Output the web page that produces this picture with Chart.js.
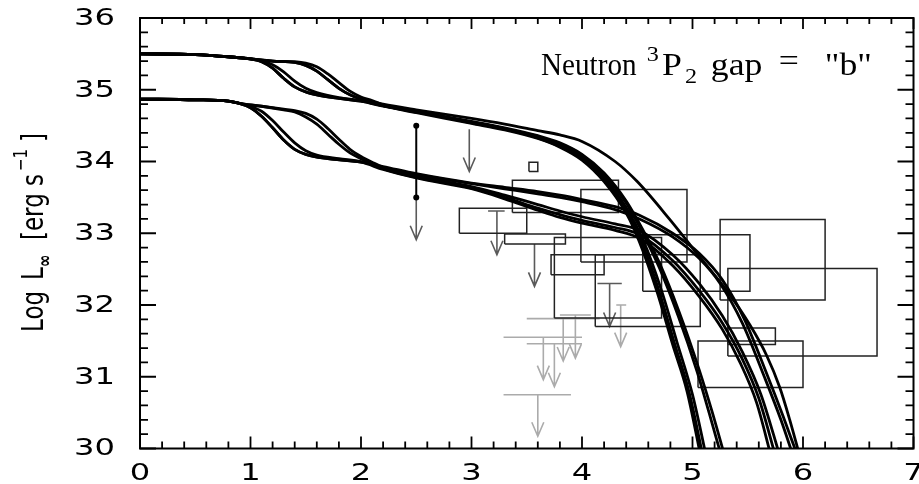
<!DOCTYPE html>
<html>
<head>
<meta charset="utf-8">
<script src="https://cdn.jsdelivr.net/npm/chart.js@4.4.1/dist/chart.umd.min.js"></script>
<style>
  html, body { margin: 0; padding: 0; background: #fff; }
  #wrap { width: 919px; height: 484px; }
</style>
</head>
<body>
<div id="wrap"><canvas id="cooling" width="919" height="484"></canvas></div>
<script>
// axes
const xTicks = [0, 1, 2, 3, 4, 5, 6, 7];
const yTicks = [30, 31, 32, 33, 34, 35, 36];

// early (neutrino era) parts of the cooling curves, [log age, log L]
const upperEarlyA = [[0,35.5],[0.5,35.49],[0.8,35.46],[1.0,35.43],[1.1,35.39],[1.2,35.3],[1.3,35.16],[1.4,35.04],[1.5,34.97],[1.6,34.93],[1.8,34.88],[2.0,34.84]];
const upperEarlyB = [[0,35.5],[0.5,35.49],[0.8,35.46],[1.0,35.43],[1.1,35.4],[1.2,35.35],[1.3,35.25],[1.4,35.12],[1.5,35.02],[1.6,34.96],[1.8,34.89],[2.0,34.85]];
const upperLateA = [[0,35.5],[0.5,35.49],[0.8,35.46],[1.0,35.43],[1.2,35.4],[1.4,35.38],[1.5,35.34],[1.6,35.26],[1.7,35.14],[1.8,35.02],[1.9,34.93],[2.0,34.87]];
const upperLateB = [[0,35.5],[0.5,35.49],[0.8,35.46],[1.0,35.43],[1.2,35.4],[1.4,35.39],[1.5,35.37],[1.6,35.32],[1.7,35.22],[1.8,35.1],[1.9,34.98],[2.0,34.9],[2.1,34.85]];

const lowerEarlyA = [[0,34.87],[0.5,34.86],[0.8,34.84],[0.9,34.81],[1.0,34.75],[1.1,34.63],[1.2,34.47],[1.3,34.3],[1.4,34.17],[1.5,34.1],[1.7,34.04],[2.0,33.99]];
const lowerEarlyB = [[0,34.87],[0.5,34.86],[0.8,34.84],[0.9,34.81],[1.0,34.77],[1.1,34.7],[1.2,34.57],[1.3,34.41],[1.4,34.26],[1.5,34.15],[1.6,34.09],[1.8,34.04],[2.0,34.0]];
const lowerLateA = [[0,34.87],[0.5,34.86],[0.8,34.84],[0.9,34.81],[1.1,34.77],[1.3,34.72],[1.4,34.69],[1.5,34.62],[1.6,34.52],[1.7,34.38],[1.8,34.24],[1.9,34.12],[2.0,34.04]];
const lowerLateB = [[0,34.87],[0.5,34.86],[0.8,34.84],[0.9,34.81],[1.1,34.77],[1.3,34.73],[1.4,34.71],[1.5,34.67],[1.6,34.59],[1.7,34.46],[1.8,34.31],[1.9,34.17],[2.0,34.07],[2.1,33.99]];

// late (photon era) parts
const tailU1 = [[2.2,34.77],[2.5,34.68],[3.0,34.53],[3.3,34.44],[3.6,34.32],[3.8,34.2],[4.0,34.02],[4.2,33.72],[4.4,33.28],[4.52,32.88],[4.68,32.18],[4.82,31.45],[4.95,30.8],[5.08,29.85]];
const tailU2 = [[2.2,34.78],[2.5,34.69],[3.0,34.54],[3.3,34.45],[3.6,34.33],[3.8,34.21],[4.0,34.04],[4.2,33.75],[4.4,33.32],[4.54,32.88],[4.7,32.18],[4.84,31.45],[4.97,30.78],[5.1,29.85]];
const tailU3 = [[2.2,34.78],[2.5,34.69],[3.0,34.55],[3.3,34.46],[3.6,34.34],[3.8,34.23],[4.0,34.06],[4.2,33.78],[4.4,33.36],[4.56,32.88],[4.72,32.2],[4.86,31.48],[5.0,30.75],[5.13,29.85]];
const tailU4 = [[2.2,34.79],[2.5,34.7],[3.0,34.56],[3.3,34.47],[3.6,34.36],[3.8,34.26],[4.0,34.1],[4.2,33.84],[4.4,33.45],[4.55,33.05],[4.7,32.59],[4.88,31.9],[5.06,31.1],[5.18,30.5],[5.29,29.9]];
const tailU5 = [[2.2,34.78],[2.5,34.69],[3.0,34.55],[3.3,34.46],[3.6,34.35],[3.8,34.25],[4.0,34.09],[4.2,33.82],[4.4,33.42],[4.55,33.0],[4.7,32.52],[4.87,31.85],[5.04,31.08],[5.15,30.5],[5.26,29.9]];
const tailU6 = [[2.2,34.8],[2.5,34.72],[3.0,34.6],[3.3,34.52],[3.6,34.43],[3.8,34.37],[4.0,34.28],[4.3,34.0],[4.5,33.72],[4.79,33.2],[5.06,32.68],[5.31,32.2],[5.52,31.72],[5.67,31.3],[5.79,30.85],[5.88,30.4],[5.97,29.9]];

const tailL1 = [[2.2,33.89],[2.5,33.77],[3.0,33.62],[3.3,33.48],[3.6,33.32],[3.8,33.22],[4.0,33.14],[4.3,33.04],[4.52,32.93],[4.82,32.55],[5.06,32.12],[5.27,31.66],[5.43,31.2],[5.58,30.64],[5.71,29.9]];
const tailL2 = [[2.2,33.9],[2.5,33.78],[3.0,33.63],[3.3,33.5],[3.6,33.35],[3.8,33.26],[4.0,33.18],[4.3,33.08],[4.52,32.98],[4.82,32.62],[5.06,32.2],[5.27,31.75],[5.45,31.25],[5.6,30.7],[5.75,29.9]];
const tailL3 = [[2.2,33.91],[2.5,33.8],[3.0,33.65],[3.3,33.53],[3.6,33.4],[3.8,33.31],[4.0,33.23],[4.3,33.13],[4.52,33.04],[4.82,32.7],[5.06,32.3],[5.27,31.85],[5.45,31.35],[5.62,30.75],[5.79,29.9]];
const tailL4 = [[2.2,33.92],[2.5,33.82],[3.0,33.69],[3.3,33.62],[3.6,33.55],[3.8,33.5],[4.0,33.44],[4.3,33.33],[4.52,33.2],[4.82,32.95],[5.06,32.65],[5.25,32.3],[5.45,31.75],[5.65,31.0],[5.8,30.4],[5.91,29.9]];
const tailL5 = [[2.2,33.93],[2.5,33.83],[3.0,33.7],[3.3,33.64],[3.6,33.58],[3.8,33.53],[4.0,33.47],[4.3,33.37],[4.52,33.25],[4.82,33.0],[5.06,32.72],[5.27,32.35],[5.47,31.8],[5.67,31.05],[5.82,30.45],[5.95,29.9]];

const curves = [
    upperEarlyA.concat(tailU1), upperLateA.concat(tailU2), upperEarlyB.concat(tailU3),
    upperLateB.concat(tailU4), upperEarlyA.concat(tailU5), upperLateA.concat(tailU6),
    lowerEarlyA.concat(tailL1), lowerLateA.concat(tailL2), lowerEarlyB.concat(tailL3),
    lowerLateB.concat(tailL4), lowerEarlyA.concat(tailL5)
];

// observed stars: boxes [age min, age max, L min, L max]
const boxes = [
    [3.52, 3.60, 33.86, 33.99], [3.37, 4.33, 33.29, 33.74], [2.89, 3.50, 33.0, 33.35],
    [3.30, 3.85, 32.85, 32.99], [3.99, 4.95, 32.60, 33.61], [3.75, 4.72, 31.82, 32.94],
    [3.72, 4.20, 32.42, 32.70], [4.12, 5.07, 31.70, 32.70], [4.55, 5.52, 32.19, 32.98],
    [5.25, 6.20, 32.07, 33.19], [5.32, 6.67, 31.29, 32.51], [5.32, 5.75, 31.45, 31.68],
    [5.05, 6.00, 30.85, 31.50]
];

// measured point with error bar [age, L low, L high]
const errorBar = [2.5, 33.5, 34.5];

// upper limits [age, L limit, arrow tip, cap from, cap to]
const darkLimits = [
    [2.5, 33.5, 32.91, null, null], [2.98, 34.45, 33.86, null, null],
    [3.23, 33.31, 32.70, 3.15, 3.30], [3.57, 32.85, 32.26, null, null],
    [4.25, 32.30, 31.70, 4.14, 4.36]
];
const lightLimits = [
    [4.35, 32.0, 31.42, 4.31, 4.40], [3.94, 31.86, 31.26, 3.80, 4.08],
    [3.83, 31.81, 31.22, 3.50, 4.16], [3.65, 31.55, 30.96, 3.29, 4.00],
    [3.75, 31.46, 30.86, 3.50, 4.00], [3.60, 30.75, 30.17, 3.29, 3.90]
];

const toXY = (pts) => pts.map(([x, y]) => ({ x, y }));

const datasets = [];
curves.forEach((c) => datasets.push({
    data: toXY(c),
    showLine: true,
    borderColor: '#000',
    borderWidth: 2.8,
    pointRadius: 0,
    cubicInterpolationMode: 'monotone',
    order: 0
}));
boxes.forEach(([x0, x1, y0, y1]) => datasets.push({
    data: toXY([[x0, y0], [x1, y0], [x1, y1], [x0, y1], [x0, y0]]),
    showLine: true,
    borderColor: '#222',
    borderWidth: 1.5,
    pointRadius: 0,
    tension: 0,
    order: 2
}));
datasets.push({
    data: toXY([[errorBar[0], errorBar[1]], [errorBar[0], errorBar[2]]]),
    showLine: true,
    borderColor: '#000',
    borderWidth: 2,
    pointRadius: 3,
    pointBackgroundColor: '#000',
    pointBorderWidth: 0,
    order: 1
});

const drawLimit = (ctx, xs, ys, lim, color) => {
    const [x, top, tip, c0, c1] = lim;
    const px = xs.getPixelForValue(x);
    const pt = ys.getPixelForValue(top);
    const pb = ys.getPixelForValue(tip);
    ctx.strokeStyle = color;
    ctx.lineWidth = 1.6;
    ctx.beginPath();
    ctx.moveTo(px, pt);
    ctx.lineTo(px, pb);
    ctx.moveTo(px - 6, pb - 14);
    ctx.lineTo(px, pb);
    ctx.lineTo(px + 6, pb - 14);
    if (c0 !== null) {
        ctx.moveTo(xs.getPixelForValue(c0), pt);
        ctx.lineTo(xs.getPixelForValue(c1), pt);
    }
    ctx.stroke();
};

// place a chunk of text so its ink starts at x0, stretched a little towards x1
const fitText = (ctx, text, x0, x1, base, font) => {
    ctx.font = font;
    const m = ctx.measureText(text);
    const w = m.actualBoundingBoxLeft + m.actualBoundingBoxRight;
    const s = Math.min(1.15, Math.max(0.9, (x1 - x0) / w));
    ctx.save();
    ctx.translate(x0, base);
    ctx.scale(s, 1);
    ctx.fillText(text, m.actualBoundingBoxLeft, 0);
    ctx.restore();
};

const framePlugin = {
    id: 'framePlugin',
    beforeDatasetsDraw(chart) {
        const { ctx, scales: { x, y } } = chart;
        ctx.save();
        darkLimits.forEach((l) => drawLimit(ctx, x, y, l, '#5a5a5a'));
        lightLimits.forEach((l) => drawLimit(ctx, x, y, l, '#ababab'));
        ctx.restore();
    },
    afterDraw(chart) {
        const { ctx, chartArea: a, scales: { x, y } } = chart;
        ctx.save();
        ctx.strokeStyle = '#000';
        ctx.fillStyle = '#000';
        ctx.lineWidth = 2;
        ctx.strokeRect(a.left, a.top, a.right - a.left, a.bottom - a.top);

        ctx.lineWidth = 1.8;
        ctx.beginPath();
        for (let v = xTicks[0]; v <= xTicks[xTicks.length - 1] + 1e-6; v += 0.2) {
            const major = Math.abs(v - Math.round(v)) < 1e-6;
            const px = x.getPixelForValue(v);
            ctx.moveTo(px, a.bottom);
            ctx.lineTo(px, a.bottom - (major ? 12 : 7));
            ctx.moveTo(px, a.top);
            ctx.lineTo(px, a.top + (major ? 11 : 6));
        }
        for (let v = yTicks[0]; v <= yTicks[yTicks.length - 1] + 1e-6; v += 0.2) {
            const major = Math.abs(v - Math.round(v)) < 1e-6;
            const py = y.getPixelForValue(v);
            ctx.moveTo(a.left, py);
            ctx.lineTo(a.left + (major ? 16 : 8), py);
            ctx.moveTo(a.right, py);
            ctx.lineTo(a.right - (major ? 16 : 8), py);
        }
        ctx.stroke();

        // tick labels
        ctx.font = '23px "DejaVu Sans"';
        yTicks.forEach((v) => {
            ctx.save();
            ctx.translate(a.left - 25, y.getPixelForValue(v) + 1);
            ctx.scale(1.4, 1);
            ctx.textAlign = 'right';
            ctx.textBaseline = 'middle';
            ctx.fillText(String(v), 0, 0);
            ctx.restore();
        });
        xTicks.forEach((v) => {
            ctx.save();
            ctx.translate(x.getPixelForValue(v), 480);
            ctx.scale(1.4, 1);
            ctx.textAlign = 'center';
            ctx.textBaseline = 'alphabetic';
            ctx.fillText(String(v), 0, 0);
            ctx.restore();
        });

        // y axis title
        ctx.save();
        ctx.translate(43, 332);
        ctx.rotate(-Math.PI / 2);
        ctx.scale(1, 1.3);
        ctx.textBaseline = 'alphabetic';
        ctx.font = '23px "DejaVu Sans"';
        ctx.fillText('Log', 0, 0);
        ctx.fillText('L', 52, 0);
        ctx.fillText('[erg s', 92, 0);
        ctx.fillText(']', 190, 0);
        ctx.font = '700 15px "DejaVu Sans"';
        ctx.fillText('\u221e', 65, 6);
        ctx.font = '15px "DejaVu Sans"';
        ctx.fillText('\u22121', 161, -12);
        ctx.restore();

        // panel title
        const serif = '"Liberation Serif", "Times New Roman", serif';
        fitText(ctx, 'Neutron', 541, 637, 75, '31px ' + serif);
        fitText(ctx, '3', 648, 659, 61, '21px ' + serif);
        fitText(ctx, 'P', 662, 684, 75, '31px ' + serif);
        fitText(ctx, '2', 685, 697, 83, '21px ' + serif);
        fitText(ctx, 'gap', 712, 765, 75, '31px ' + serif);
        fitText(ctx, '=', 780, 804, 71, '31px ' + serif);
        fitText(ctx, '"b"', 826, 885, 75, '31px ' + serif);
        ctx.restore();
    }
};

new Chart(document.getElementById('cooling'), {
    type: 'scatter',
    data: { datasets },
    options: {
        responsive: false,
        animation: false,
        events: [],
        layout: { padding: { left: 140, top: 18, right: 5.5, bottom: 35.5 } },
        plugins: { legend: { display: false }, tooltip: { enabled: false } },
        scales: {
            x: { type: 'linear', min: 0, max: 7, display: false },
            y: { type: 'linear', min: 30, max: 36, display: false }
        }
    },
    plugins: [framePlugin]
});
</script>
</body>
</html>
